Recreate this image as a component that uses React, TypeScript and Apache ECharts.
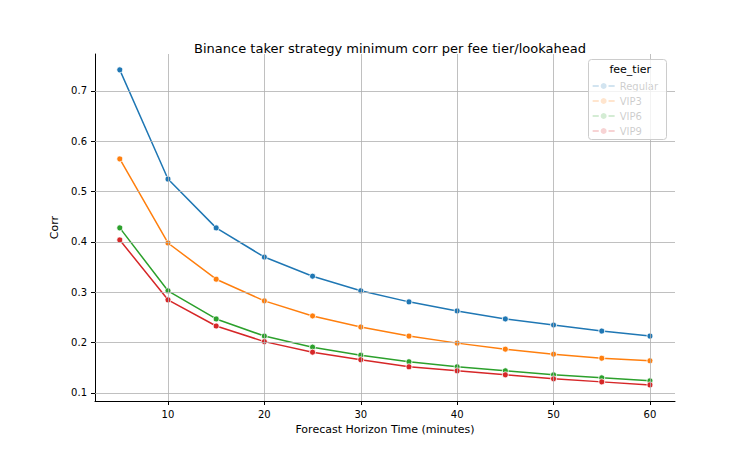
import React, { useEffect, useRef } from "react";
import * as echarts from "echarts";

const horizons = [5, 10, 15, 20, 25, 30, 35, 40, 45, 50, 55, 60];
const regular = [0.742, 0.525, 0.428, 0.370, 0.332, 0.303, 0.281, 0.263, 0.247, 0.235, 0.223, 0.213];
const vip3 = [0.565, 0.398, 0.326, 0.283, 0.253, 0.231, 0.213, 0.199, 0.187, 0.177, 0.169, 0.164];
const vip6 = [0.428, 0.303, 0.247, 0.213, 0.191, 0.175, 0.162, 0.152, 0.144, 0.136, 0.130, 0.124];
const vip9 = [0.404, 0.285, 0.233, 0.202, 0.181, 0.166, 0.152, 0.144, 0.136, 0.128, 0.122, 0.116];
const seriesNames = ["Regular", "VIP3", "VIP6", "VIP9"];
const colors = ["#1f77b4", "#ff7f0e", "#2ca02c", "#d62728"];
const xTicks = [10, 20, 30, 40, 50, 60];
const yTicks = [0.1, 0.2, 0.3, 0.4, 0.5, 0.6, 0.7];

export default function App() {
  const ref = useRef<HTMLDivElement>(null);
  useEffect(() => {
    const chart = echarts.init(ref.current!, null, { renderer: "svg" });
    const all = [regular, vip3, vip6, vip9];
    chart.setOption({
      animation: false,
      backgroundColor: "#fff",
      textStyle: { fontFamily: "DejaVu Sans" },
      title: {
        text: "Binance taker strategy minimum corr per fee tier/lookahead",
        left: 377, top: 29, textAlign: "center",
        textStyle: { fontSize: 13, fontWeight: "normal", color: "#000" },
      },
      grid: { left: 87, right: 67, top: 46, bottom: 41 },
      xAxis: {
        type: "value", min: 2.43, max: 62.6,
        name: "Forecast Horizon Time (minutes)", nameLocation: "middle", nameGap: 22,
        nameTextStyle: { fontSize: 11, color: "#000" },
        axisLine: { lineStyle: { color: "#000" } },
        axisTick: { show: true, length: 4, lineStyle: { color: "#000" }, customValues: xTicks },
        axisLabel: { fontSize: 10, color: "#000", customValues: xTicks },
        splitLine: { show: false },
      },
      yAxis: {
        type: "value", min: 0.084, max: 0.7735,
        name: "Corr", nameLocation: "middle", nameGap: 32,
        nameTextStyle: { fontSize: 11, color: "#000" },
        axisLine: { show: true, lineStyle: { color: "#000" } },
        axisTick: { show: true, length: 4, lineStyle: { color: "#000" }, customValues: yTicks },
        axisLabel: { fontSize: 10, color: "#000", formatter: (v: number) => v.toFixed(1), customValues: yTicks },
        splitLine: { show: false },
      },
      legend: {
        orient: "vertical", right: 79, top: 68, itemGap: 5,
        itemWidth: 22, itemHeight: 10,
        textStyle: { fontSize: 10, color: "#000" },
        data: seriesNames,
      },
      graphic: [
        { type: "rect", right: 75, top: 51, shape: { width: 78, height: 80, r: 3 },
          style: { fill: "rgba(255,255,255,0.8)", stroke: "#ccc" }, z: 10 },
        { type: "text", right: 91, top: 56, z: 11, style: { text: "fee_tier", fontSize: 11, fill: "#000", fontFamily: "DejaVu Sans" } },
      ],
      series: [
        ...all.map((d, i) => ({
          name: seriesNames[i], type: "line", color: colors[i],
          data: horizons.map((h, j) => [h, d[j]]),
          symbol: "circle", symbolSize: 6,
          lineStyle: { width: 1.5 },
          itemStyle: { borderColor: "#fff", borderWidth: 0.8 },
          z: 3,
        })),
        {
          type: "line", name: "grid", data: [], silent: true, z: 1,
          markLine: {
            symbol: "none", silent: true, label: { show: false },
            lineStyle: { color: "#b0b0b0", type: "solid", width: 0.8 },
            data: [...xTicks.map((v) => ({ xAxis: v })), ...yTicks.map((v) => ({ yAxis: v }))],
          },
        },
      ],
    });
    return () => chart.dispose();
  }, []);
  return <div ref={ref} style={{ width: 734, height: 434 }} />;
}
